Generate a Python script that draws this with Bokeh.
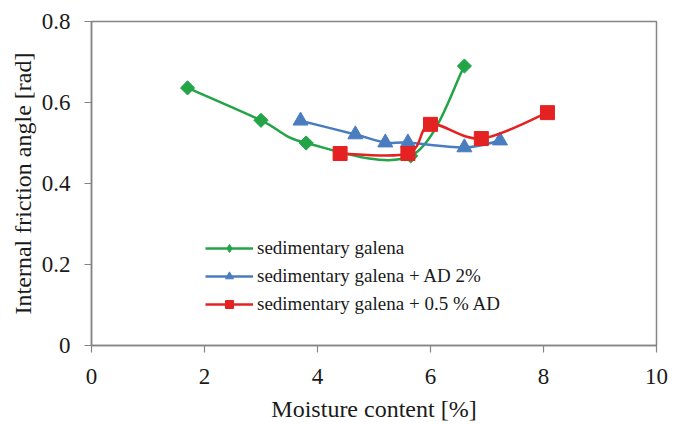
import numpy as np
from bokeh.plotting import figure
from bokeh.models import Range1d, FixedTicker, Legend, LegendItem, ColumnDataSource
from bokeh.embed import file_html
from bokeh.resources import INLINE

# ---- data ----
green_x = [1.7, 3.0, 3.8, 5.65, 6.6]
green_y = [0.636, 0.556, 0.500, 0.468, 0.690]
blue_x = [3.7, 4.67, 5.2, 5.6, 6.6, 7.23]
blue_y = [0.555, 0.521, 0.501, 0.501, 0.489, 0.506]
red_x = [4.4, 5.6, 6.0, 6.9, 8.07]
red_y = [0.474, 0.474, 0.546, 0.511, 0.575]

x_ticks = [0, 2, 4, 6, 8, 10]
x_tick_labels = ["0", "2", "4", "6", "8", "10"]
y_ticks = [0, 0.2, 0.4, 0.6, 0.8]
y_tick_labels = ["0", "0.2", "0.4", "0.6", "0.8"]

labels = ["sedimentary galena", "sedimentary galena + AD 2%", "sedimentary galena + 0.5 % AD"]
colors = ["#23a447", "#4a7dc0", "#e52222"]

FONT = "Liberation Serif"


def smooth_segments(xs, ys, t=1.0 / 6.0):
    """Catmull-Rom style Bezier control points (like a spreadsheet's smoothed line)."""
    px = [xs[0]] + list(xs) + [xs[-1]]
    py = [ys[0]] + list(ys) + [ys[-1]]
    d = dict(x0=[], y0=[], x1=[], y1=[], cx0=[], cy0=[], cx1=[], cy1=[])
    for i in range(1, len(px) - 2):
        d["x0"].append(px[i]); d["y0"].append(py[i])
        d["x1"].append(px[i + 1]); d["y1"].append(py[i + 1])
        d["cx0"].append(px[i] + (px[i + 1] - px[i - 1]) * t)
        d["cy0"].append(py[i] + (py[i + 1] - py[i - 1]) * t)
        d["cx1"].append(px[i + 1] - (px[i + 2] - px[i]) * t)
        d["cy1"].append(py[i + 1] - (py[i + 2] - py[i]) * t)
    return ColumnDataSource(d)


W, H = 682, 424
p = figure(width=W, height=H, output_backend="svg", toolbar_location=None,
           x_range=Range1d(0, 10), y_range=Range1d(0, 0.8),
           min_border_left=91, min_border_right=W - 656, min_border_top=21, min_border_bottom=H - 345)
p.xgrid.visible = False
p.ygrid.visible = False
p.outline_line_color = "#858585"
p.outline_line_width = 1.5
p.background_fill_color = "white"
p.border_fill_color = "white"

p.xaxis.ticker = FixedTicker(ticks=x_ticks)
p.yaxis.ticker = FixedTicker(ticks=y_ticks)
p.xaxis.major_label_overrides = {k: v for k, v in zip(x_ticks, x_tick_labels)}
p.yaxis.major_label_overrides = {k: v for k, v in zip(y_ticks, y_tick_labels)}
for ax in (p.xaxis, p.yaxis):
    ax.axis_line_color = "#858585"
    ax.axis_line_width = 1.5
    ax.major_tick_line_color = "#858585"
    ax.major_tick_line_width = 1.2
    ax.major_tick_in = 0
    ax.major_tick_out = 7
    ax.minor_tick_line_color = None
    ax.major_label_text_font = FONT
    ax.major_label_text_font_size = "23px"
    ax.major_label_text_color = "#1a1a1a"
    ax.axis_label_text_font = FONT
    ax.axis_label_text_font_size = "24px"
    ax.axis_label_text_font_style = "normal"
    ax.axis_label_text_color = "#1a1a1a"
p.xaxis.axis_label = "Moisture content [%]"
p.yaxis.axis_label = "Internal friction angle [rad]"
p.xaxis.major_label_standoff = 16
p.yaxis.major_label_standoff = 14
p.xaxis.axis_label_standoff = 9
p.yaxis.axis_label_standoff = 3

nan2 = [np.nan, np.nan]
items = []
series = [(green_x, green_y, "square", 10, np.pi / 4, "diamond"),
          (blue_x, blue_y, "triangle", 15, 0.0, "triangle"),
          (red_x, red_y, "square", 14, 0.0, "square")]
for (xs, ys, marker, size, ang, leg_marker), lab, col in zip(series, labels, colors):
    src = smooth_segments(xs, ys)
    p.bezier(x0="x0", y0="y0", x1="x1", y1="y1", cx0="cx0", cy0="cy0", cx1="cx1", cy1="cy1",
             source=src, line_color=col, line_width=2.5)
    p.scatter(x=xs, y=ys, marker=marker, size=size, angle=ang,
              fill_color=col, line_color=col, line_width=1)
    proxy_line = p.line(x=nan2, y=nan2, line_color=col, line_width=2.5)
    proxy_mark = p.scatter(x=nan2, y=nan2, marker=leg_marker, size=size,
                           fill_color=col, line_color=col, line_width=1)
    items.append(LegendItem(label=lab, renderers=[proxy_line, proxy_mark]))

legend = Legend(items=items, location=(114, 30), glyph_width=48, glyph_height=20,
                label_height=20, spacing=6, padding=0, margin=0, label_standoff=4,
                border_line_alpha=0, background_fill_alpha=0,
                label_text_font=FONT, label_text_font_size="19px", label_text_color="#1a1a1a")
p.add_layout(legend, "center")

open("out.html", "w").write(file_html(p, INLINE))
